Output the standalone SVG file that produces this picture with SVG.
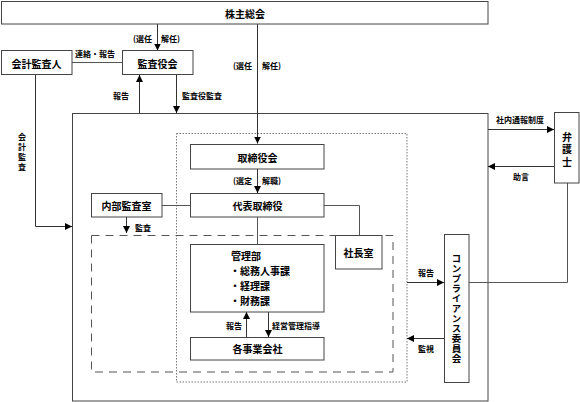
<svg xmlns="http://www.w3.org/2000/svg" width="580" height="402" viewBox="0 0 580 402">
<style>
text{font-family:"Noto Sans CJK JP","Noto Sans",sans-serif;fill:#000;}
.bx{fill:#fff;stroke:#444;stroke-width:1;}
.t{font-size:10px;text-anchor:middle;dominant-baseline:central;font-weight:bold;}
.l{font-size:8px;font-weight:bold;dominant-baseline:central;}
.ln{fill:none;stroke:#555;stroke-width:1;}
.ar{fill:none;stroke:#333;stroke-width:1;marker-end:url(#ah);}
.v{writing-mode:vertical-rl;text-anchor:middle;font-weight:bold;}
</style>
<defs>
<marker id="ah" viewBox="0 0 10 10" refX="10" refY="5" markerWidth="7" markerHeight="7" markerUnits="userSpaceOnUse" orient="auto">
<path d="M0,0L10,5L0,10z" fill="#000"/>
</marker>
</defs>
<rect width="580" height="402" fill="#fff"/>
<g id="frames">
<rect x="72.5" y="113.5" width="415.5" height="287.5" fill="none" stroke="#444"/>
<rect x="176.5" y="133.5" width="230.5" height="248.5" fill="none" stroke="#777" stroke-dasharray="1.5,1.5"/>
<rect x="91.5" y="235.5" width="301.5" height="136.5" fill="none" stroke="#555" stroke-dasharray="8,6"/>
</g>
<g id="connectors">
<line class="ar" x1="157.5" y1="24" x2="157.5" y2="50.5"/>
<line class="ar" x1="257.5" y1="24" x2="257.5" y2="143.5"/>
<line class="ln" x1="72" y1="62.5" x2="122" y2="62.5"/>
<line class="ar" x1="139.5" y1="113" x2="139.5" y2="75"/>
<line class="ar" x1="176.5" y1="75" x2="176.5" y2="113"/>
<polyline class="ar" points="35.5,75 35.5,226.5 72,226.5"/>
<line class="ar" x1="257.5" y1="169" x2="257.5" y2="193"/>
<line class="ln" x1="162" y1="205.5" x2="190" y2="205.5"/>
<polyline class="ln" points="324,205.5 359.5,205.5 359.5,235"/>
<line class="ar" x1="126.5" y1="217" x2="126.5" y2="233"/>
<line class="ln" x1="257.5" y1="217" x2="257.5" y2="244"/>
<line class="ar" x1="246.5" y1="337" x2="246.5" y2="312"/>
<line class="ar" x1="268.5" y1="312" x2="268.5" y2="337"/>
<line class="ar" x1="407" y1="282.5" x2="444" y2="282.5"/>
<line class="ar" x1="444" y1="338.5" x2="407" y2="338.5"/>
<line class="ar" x1="488" y1="129.5" x2="554" y2="129.5"/>
<line class="ar" x1="554" y1="166.5" x2="488" y2="166.5"/>
<polyline class="ln" points="567.5,183 567.5,282.5 469,282.5"/>
</g>
<g id="n-kabunushi"><rect class="bx" x="1.5" y="1.5" width="486.5" height="22.5"/><text class="t" x="245" y="13">株主総会</text></g>
<g id="n-kansayakukai"><rect class="bx" x="122.5" y="50.5" width="70.5" height="24"/><text class="t" x="157.5" y="63">監査役会</text></g>
<g id="n-kaikei"><rect class="bx" x="1.5" y="50.5" width="70.5" height="24"/><text class="t" x="36.5" y="63">会計監査人</text></g>
<g id="n-torishimariyakukai"><rect class="bx" x="190.5" y="144.5" width="133.5" height="24.5"/><text class="t" x="257.5" y="157">取締役会</text></g>
<g id="n-daihyo"><rect class="bx" x="190.5" y="193.5" width="133.5" height="23.5"/><text class="t" x="257.5" y="205.5">代表取締役</text></g>
<g id="n-naibu"><rect class="bx" x="91.5" y="193.5" width="70.5" height="23.5"/><text class="t" x="126.5" y="205.5">内部監査室</text></g>
<g id="n-shachoshitsu"><rect class="bx" x="335.5" y="235.5" width="46.5" height="33.5"/><text class="t" x="358.5" y="252.5">社長室</text></g>
<g id="n-kanribu"><rect class="bx" x="190.5" y="244.5" width="133.5" height="67.5"/>
<text class="t" x="246" y="255.5">管理部</text>
<text class="t" x="230" y="270.5" style="text-anchor:start">・総務人事課</text>
<text class="t" x="230" y="285.5" style="text-anchor:start">・経理課</text>
<text class="t" x="230" y="300.5" style="text-anchor:start">・財務課</text></g>
<g id="n-kakujigyo"><rect class="bx" x="190.5" y="337.5" width="133.5" height="22.5"/><text class="t" x="257.5" y="348.5">各事業会社</text></g>
<g id="n-compliance"><rect class="bx" x="444.5" y="234.5" width="24.5" height="148"/>
<text class="v" x="456.5" y="308.5" style="font-size:9.5px;letter-spacing:0.5px">コンプライアンス委員会</text></g>
<g id="n-bengoshi"><rect class="bx" x="554.5" y="112.5" width="24.5" height="70.5"/>
<text class="v" x="567" y="150.5" style="font-size:10px;letter-spacing:2.5px">弁護士</text></g>
<g id="labels">
<text class="l" x="133" y="38">(選任</text><text class="l" x="161" y="38">解任)</text>
<text class="l" x="233" y="65">(選任</text><text class="l" x="262" y="65">解任)</text>
<text class="l" x="75" y="53">連絡・報告</text>
<text class="l" x="113" y="95">報告</text>
<text class="l" x="182" y="95">監査役監査</text>
<text class="v" x="22" y="152.5" style="font-size:8px;letter-spacing:2px">会計監査</text>
<text class="l" x="233" y="180">(選定</text><text class="l" x="262" y="180">解職)</text>
<text class="l" x="135" y="227">監査</text>
<text class="l" x="226" y="325">報告</text>
<text class="l" x="272" y="325">経営管理指導</text>
<text class="l" x="418" y="272">報告</text>
<text class="l" x="418" y="348">監視</text>
<text class="l" x="496" y="119">社内通報制度</text>
<text class="l" x="513" y="176">助言</text>
</g>
</svg>
